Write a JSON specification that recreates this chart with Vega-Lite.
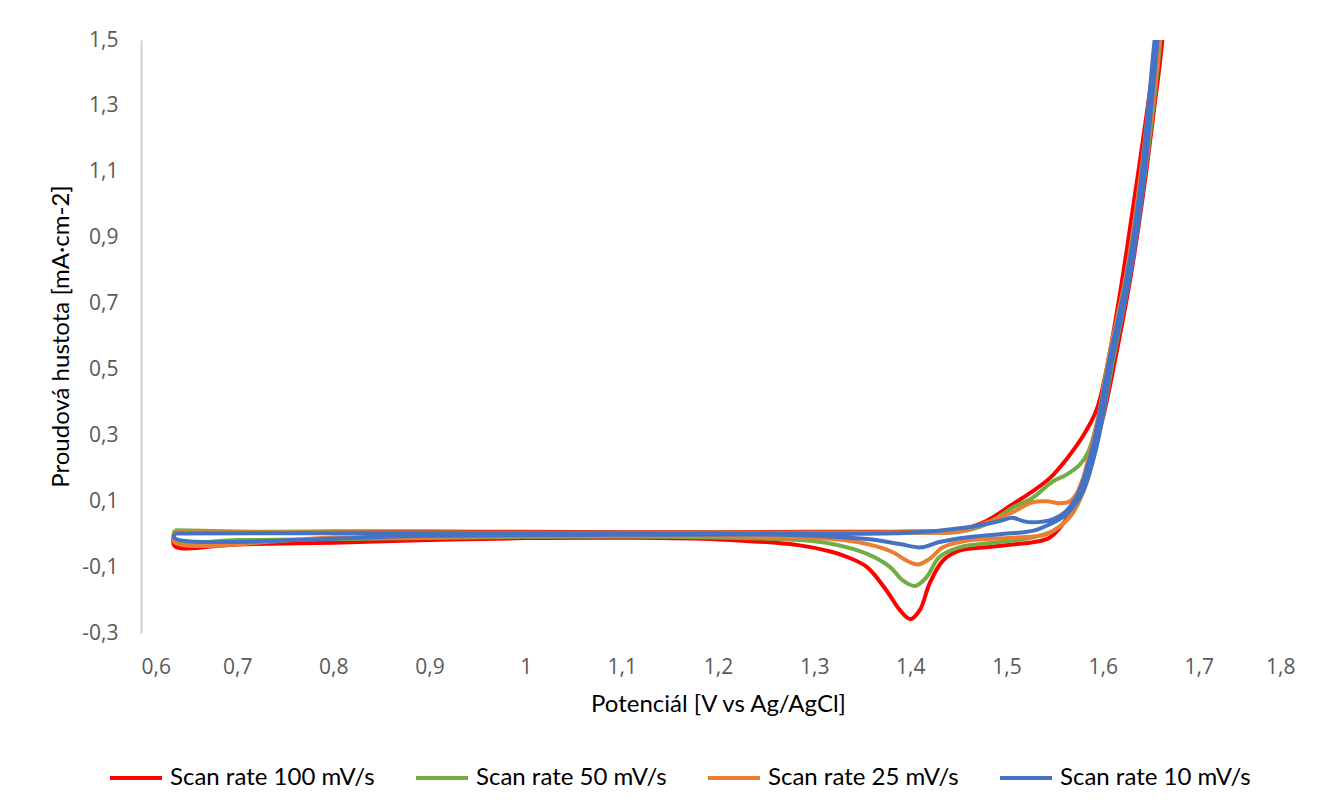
{
  "$schema": "https://vega.github.io/schema/vega-lite/v6.json",
  "width": 1154,
  "height": 593,
  "autosize": {"type": "none"},
  "padding": {"left": 141, "top": 40, "right": 35, "bottom": 178},
  "background": "white",
  "config": {
    "view": {"stroke": null},
    "locale": {"number": {"decimal": ",", "thousands": " ", "grouping": [3], "currency": ["", " €"], "minus": "-"}},
    "font": "Lato"
  },
  "datasets": {
    "cv": [
      {"s":"Scan rate 100 mV/s","i":0,"V":0.635,"J":0.005},
      {"s":"Scan rate 100 mV/s","i":1,"V":0.7,"J":0.006},
      {"s":"Scan rate 100 mV/s","i":2,"V":0.8,"J":0.008},
      {"s":"Scan rate 100 mV/s","i":3,"V":0.9,"J":0.008},
      {"s":"Scan rate 100 mV/s","i":4,"V":1.0,"J":0.007},
      {"s":"Scan rate 100 mV/s","i":5,"V":1.1,"J":0.006},
      {"s":"Scan rate 100 mV/s","i":6,"V":1.2,"J":0.006},
      {"s":"Scan rate 100 mV/s","i":7,"V":1.3,"J":0.007},
      {"s":"Scan rate 100 mV/s","i":8,"V":1.4,"J":0.008},
      {"s":"Scan rate 100 mV/s","i":9,"V":1.45,"J":0.012},
      {"s":"Scan rate 100 mV/s","i":10,"V":1.479,"J":0.04},
      {"s":"Scan rate 100 mV/s","i":11,"V":1.506,"J":0.09},
      {"s":"Scan rate 100 mV/s","i":12,"V":1.527,"J":0.13},
      {"s":"Scan rate 100 mV/s","i":13,"V":1.545,"J":0.17},
      {"s":"Scan rate 100 mV/s","i":14,"V":1.563,"J":0.23},
      {"s":"Scan rate 100 mV/s","i":15,"V":1.58,"J":0.3},
      {"s":"Scan rate 100 mV/s","i":16,"V":1.594,"J":0.38},
      {"s":"Scan rate 100 mV/s","i":17,"V":1.604,"J":0.5},
      {"s":"Scan rate 100 mV/s","i":18,"V":1.618,"J":0.73},
      {"s":"Scan rate 100 mV/s","i":19,"V":1.631,"J":0.98},
      {"s":"Scan rate 100 mV/s","i":20,"V":1.646,"J":1.28},
      {"s":"Scan rate 100 mV/s","i":21,"V":1.656,"J":1.5},
      {"s":"Scan rate 100 mV/s","i":22,"V":1.668,"J":1.8},
      {"s":"Scan rate 100 mV/s","i":23,"V":1.662,"J":1.5},
      {"s":"Scan rate 100 mV/s","i":24,"V":1.653,"J":1.28},
      {"s":"Scan rate 100 mV/s","i":25,"V":1.642,"J":1.03},
      {"s":"Scan rate 100 mV/s","i":26,"V":1.629,"J":0.78},
      {"s":"Scan rate 100 mV/s","i":27,"V":1.613,"J":0.53},
      {"s":"Scan rate 100 mV/s","i":28,"V":1.6,"J":0.35},
      {"s":"Scan rate 100 mV/s","i":29,"V":1.59,"J":0.25},
      {"s":"Scan rate 100 mV/s","i":30,"V":1.576,"J":0.14},
      {"s":"Scan rate 100 mV/s","i":31,"V":1.563,"J":0.05},
      {"s":"Scan rate 100 mV/s","i":32,"V":1.545,"J":-0.01},
      {"s":"Scan rate 100 mV/s","i":33,"V":1.527,"J":-0.025},
      {"s":"Scan rate 100 mV/s","i":34,"V":1.511,"J":-0.03},
      {"s":"Scan rate 100 mV/s","i":35,"V":1.479,"J":-0.04},
      {"s":"Scan rate 100 mV/s","i":36,"V":1.451,"J":-0.05},
      {"s":"Scan rate 100 mV/s","i":37,"V":1.434,"J":-0.08},
      {"s":"Scan rate 100 mV/s","i":38,"V":1.42,"J":-0.15},
      {"s":"Scan rate 100 mV/s","i":39,"V":1.41,"J":-0.23},
      {"s":"Scan rate 100 mV/s","i":40,"V":1.4,"J":-0.258},
      {"s":"Scan rate 100 mV/s","i":41,"V":1.389,"J":-0.23},
      {"s":"Scan rate 100 mV/s","i":42,"V":1.375,"J":-0.17},
      {"s":"Scan rate 100 mV/s","i":43,"V":1.355,"J":-0.1},
      {"s":"Scan rate 100 mV/s","i":44,"V":1.335,"J":-0.07},
      {"s":"Scan rate 100 mV/s","i":45,"V":1.319,"J":-0.054},
      {"s":"Scan rate 100 mV/s","i":46,"V":1.285,"J":-0.034},
      {"s":"Scan rate 100 mV/s","i":47,"V":1.2,"J":-0.016},
      {"s":"Scan rate 100 mV/s","i":48,"V":1.1,"J":-0.011},
      {"s":"Scan rate 100 mV/s","i":49,"V":1.0,"J":-0.012},
      {"s":"Scan rate 100 mV/s","i":50,"V":0.9,"J":-0.018},
      {"s":"Scan rate 100 mV/s","i":51,"V":0.8,"J":-0.026},
      {"s":"Scan rate 100 mV/s","i":52,"V":0.7,"J":-0.031},
      {"s":"Scan rate 100 mV/s","i":53,"V":0.635,"J":-0.036},
      {"s":"Scan rate 100 mV/s","i":54,"V":0.635,"J":0.005},

      {"s":"Scan rate 50 mV/s","i":0,"V":0.635,"J":0.012},
      {"s":"Scan rate 50 mV/s","i":1,"V":0.7,"J":0.008},
      {"s":"Scan rate 50 mV/s","i":2,"V":0.8,"J":0.006},
      {"s":"Scan rate 50 mV/s","i":3,"V":0.9,"J":0.005},
      {"s":"Scan rate 50 mV/s","i":4,"V":1.0,"J":0.004},
      {"s":"Scan rate 50 mV/s","i":5,"V":1.1,"J":0.004},
      {"s":"Scan rate 50 mV/s","i":6,"V":1.2,"J":0.004},
      {"s":"Scan rate 50 mV/s","i":7,"V":1.3,"J":0.004},
      {"s":"Scan rate 50 mV/s","i":8,"V":1.4,"J":0.005},
      {"s":"Scan rate 50 mV/s","i":9,"V":1.451,"J":0.007},
      {"s":"Scan rate 50 mV/s","i":10,"V":1.479,"J":0.03},
      {"s":"Scan rate 50 mV/s","i":11,"V":1.506,"J":0.08},
      {"s":"Scan rate 50 mV/s","i":12,"V":1.527,"J":0.11},
      {"s":"Scan rate 50 mV/s","i":13,"V":1.548,"J":0.16},
      {"s":"Scan rate 50 mV/s","i":14,"V":1.562,"J":0.18},
      {"s":"Scan rate 50 mV/s","i":15,"V":1.576,"J":0.21},
      {"s":"Scan rate 50 mV/s","i":16,"V":1.585,"J":0.25},
      {"s":"Scan rate 50 mV/s","i":17,"V":1.595,"J":0.35},
      {"s":"Scan rate 50 mV/s","i":18,"V":1.606,"J":0.53},
      {"s":"Scan rate 50 mV/s","i":19,"V":1.624,"J":0.78},
      {"s":"Scan rate 50 mV/s","i":20,"V":1.637,"J":1.03},
      {"s":"Scan rate 50 mV/s","i":21,"V":1.648,"J":1.28},
      {"s":"Scan rate 50 mV/s","i":22,"V":1.656,"J":1.5},
      {"s":"Scan rate 50 mV/s","i":23,"V":1.667,"J":1.8},
      {"s":"Scan rate 50 mV/s","i":24,"V":1.66,"J":1.5},
      {"s":"Scan rate 50 mV/s","i":25,"V":1.652,"J":1.28},
      {"s":"Scan rate 50 mV/s","i":26,"V":1.641,"J":1.03},
      {"s":"Scan rate 50 mV/s","i":27,"V":1.628,"J":0.78},
      {"s":"Scan rate 50 mV/s","i":28,"V":1.611,"J":0.53},
      {"s":"Scan rate 50 mV/s","i":29,"V":1.596,"J":0.3},
      {"s":"Scan rate 50 mV/s","i":30,"V":1.582,"J":0.15},
      {"s":"Scan rate 50 mV/s","i":31,"V":1.568,"J":0.06},
      {"s":"Scan rate 50 mV/s","i":32,"V":1.548,"J":0.01},
      {"s":"Scan rate 50 mV/s","i":33,"V":1.527,"J":-0.01},
      {"s":"Scan rate 50 mV/s","i":34,"V":1.493,"J":-0.024},
      {"s":"Scan rate 50 mV/s","i":35,"V":1.451,"J":-0.04},
      {"s":"Scan rate 50 mV/s","i":36,"V":1.43,"J":-0.07},
      {"s":"Scan rate 50 mV/s","i":37,"V":1.417,"J":-0.13},
      {"s":"Scan rate 50 mV/s","i":38,"V":1.405,"J":-0.157},
      {"s":"Scan rate 50 mV/s","i":39,"V":1.392,"J":-0.14},
      {"s":"Scan rate 50 mV/s","i":40,"V":1.379,"J":-0.1},
      {"s":"Scan rate 50 mV/s","i":41,"V":1.355,"J":-0.06},
      {"s":"Scan rate 50 mV/s","i":42,"V":1.319,"J":-0.03},
      {"s":"Scan rate 50 mV/s","i":43,"V":1.285,"J":-0.018},
      {"s":"Scan rate 50 mV/s","i":44,"V":1.2,"J":-0.01},
      {"s":"Scan rate 50 mV/s","i":45,"V":1.1,"J":-0.007},
      {"s":"Scan rate 50 mV/s","i":46,"V":1.0,"J":-0.008},
      {"s":"Scan rate 50 mV/s","i":47,"V":0.9,"J":-0.012},
      {"s":"Scan rate 50 mV/s","i":48,"V":0.8,"J":-0.015},
      {"s":"Scan rate 50 mV/s","i":49,"V":0.7,"J":-0.018},
      {"s":"Scan rate 50 mV/s","i":50,"V":0.635,"J":-0.02},
      {"s":"Scan rate 50 mV/s","i":51,"V":0.635,"J":0.012},

      {"s":"Scan rate 25 mV/s","i":0,"V":0.635,"J":0.006},
      {"s":"Scan rate 25 mV/s","i":1,"V":0.8,"J":0.005},
      {"s":"Scan rate 25 mV/s","i":2,"V":1.0,"J":0.004},
      {"s":"Scan rate 25 mV/s","i":3,"V":1.2,"J":0.004},
      {"s":"Scan rate 25 mV/s","i":4,"V":1.4,"J":0.005},
      {"s":"Scan rate 25 mV/s","i":5,"V":1.451,"J":0.008},
      {"s":"Scan rate 25 mV/s","i":6,"V":1.479,"J":0.035},
      {"s":"Scan rate 25 mV/s","i":7,"V":1.506,"J":0.066},
      {"s":"Scan rate 25 mV/s","i":8,"V":1.527,"J":0.097},
      {"s":"Scan rate 25 mV/s","i":9,"V":1.542,"J":0.1},
      {"s":"Scan rate 25 mV/s","i":10,"V":1.555,"J":0.094},
      {"s":"Scan rate 25 mV/s","i":11,"V":1.566,"J":0.1},
      {"s":"Scan rate 25 mV/s","i":12,"V":1.576,"J":0.14},
      {"s":"Scan rate 25 mV/s","i":13,"V":1.586,"J":0.24},
      {"s":"Scan rate 25 mV/s","i":14,"V":1.596,"J":0.36},
      {"s":"Scan rate 25 mV/s","i":15,"V":1.606,"J":0.53},
      {"s":"Scan rate 25 mV/s","i":16,"V":1.624,"J":0.78},
      {"s":"Scan rate 25 mV/s","i":17,"V":1.637,"J":1.03},
      {"s":"Scan rate 25 mV/s","i":18,"V":1.647,"J":1.28},
      {"s":"Scan rate 25 mV/s","i":19,"V":1.655,"J":1.5},
      {"s":"Scan rate 25 mV/s","i":20,"V":1.667,"J":1.8},
      {"s":"Scan rate 25 mV/s","i":21,"V":1.659,"J":1.5},
      {"s":"Scan rate 25 mV/s","i":22,"V":1.651,"J":1.28},
      {"s":"Scan rate 25 mV/s","i":23,"V":1.64,"J":1.03},
      {"s":"Scan rate 25 mV/s","i":24,"V":1.627,"J":0.78},
      {"s":"Scan rate 25 mV/s","i":25,"V":1.61,"J":0.53},
      {"s":"Scan rate 25 mV/s","i":26,"V":1.595,"J":0.29},
      {"s":"Scan rate 25 mV/s","i":27,"V":1.58,"J":0.13},
      {"s":"Scan rate 25 mV/s","i":28,"V":1.565,"J":0.05},
      {"s":"Scan rate 25 mV/s","i":29,"V":1.542,"J":0.0},
      {"s":"Scan rate 25 mV/s","i":30,"V":1.511,"J":-0.01},
      {"s":"Scan rate 25 mV/s","i":31,"V":1.458,"J":-0.02},
      {"s":"Scan rate 25 mV/s","i":32,"V":1.434,"J":-0.04},
      {"s":"Scan rate 25 mV/s","i":33,"V":1.42,"J":-0.075},
      {"s":"Scan rate 25 mV/s","i":34,"V":1.408,"J":-0.092},
      {"s":"Scan rate 25 mV/s","i":35,"V":1.396,"J":-0.08},
      {"s":"Scan rate 25 mV/s","i":36,"V":1.382,"J":-0.055},
      {"s":"Scan rate 25 mV/s","i":37,"V":1.355,"J":-0.03},
      {"s":"Scan rate 25 mV/s","i":38,"V":1.319,"J":-0.015},
      {"s":"Scan rate 25 mV/s","i":39,"V":1.285,"J":-0.01},
      {"s":"Scan rate 25 mV/s","i":40,"V":1.1,"J":-0.005},
      {"s":"Scan rate 25 mV/s","i":41,"V":0.9,"J":-0.008},
      {"s":"Scan rate 25 mV/s","i":42,"V":0.8,"J":-0.01},
      {"s":"Scan rate 25 mV/s","i":43,"V":0.635,"J":-0.025},
      {"s":"Scan rate 25 mV/s","i":44,"V":0.635,"J":0.006},

      {"s":"Scan rate 10 mV/s","i":0,"V":0.635,"J":0.002},
      {"s":"Scan rate 10 mV/s","i":1,"V":0.8,"J":0.003},
      {"s":"Scan rate 10 mV/s","i":2,"V":1.0,"J":0.003},
      {"s":"Scan rate 10 mV/s","i":3,"V":1.2,"J":0.003},
      {"s":"Scan rate 10 mV/s","i":4,"V":1.4,"J":0.004},
      {"s":"Scan rate 10 mV/s","i":5,"V":1.458,"J":0.02},
      {"s":"Scan rate 10 mV/s","i":6,"V":1.493,"J":0.04},
      {"s":"Scan rate 10 mV/s","i":7,"V":1.506,"J":0.05},
      {"s":"Scan rate 10 mV/s","i":8,"V":1.517,"J":0.04},
      {"s":"Scan rate 10 mV/s","i":9,"V":1.527,"J":0.036},
      {"s":"Scan rate 10 mV/s","i":10,"V":1.548,"J":0.045},
      {"s":"Scan rate 10 mV/s","i":11,"V":1.562,"J":0.07},
      {"s":"Scan rate 10 mV/s","i":12,"V":1.574,"J":0.12},
      {"s":"Scan rate 10 mV/s","i":13,"V":1.59,"J":0.27},
      {"s":"Scan rate 10 mV/s","i":14,"V":1.607,"J":0.53},
      {"s":"Scan rate 10 mV/s","i":15,"V":1.625,"J":0.78},
      {"s":"Scan rate 10 mV/s","i":16,"V":1.638,"J":1.03},
      {"s":"Scan rate 10 mV/s","i":17,"V":1.647,"J":1.28},
      {"s":"Scan rate 10 mV/s","i":18,"V":1.654,"J":1.5},
      {"s":"Scan rate 10 mV/s","i":19,"V":1.666,"J":1.8},
      {"s":"Scan rate 10 mV/s","i":20,"V":1.657,"J":1.5},
      {"s":"Scan rate 10 mV/s","i":21,"V":1.65,"J":1.28},
      {"s":"Scan rate 10 mV/s","i":22,"V":1.641,"J":1.03},
      {"s":"Scan rate 10 mV/s","i":23,"V":1.628,"J":0.78},
      {"s":"Scan rate 10 mV/s","i":24,"V":1.61,"J":0.53},
      {"s":"Scan rate 10 mV/s","i":25,"V":1.594,"J":0.27},
      {"s":"Scan rate 10 mV/s","i":26,"V":1.578,"J":0.12},
      {"s":"Scan rate 10 mV/s","i":27,"V":1.562,"J":0.06},
      {"s":"Scan rate 10 mV/s","i":28,"V":1.545,"J":0.03},
      {"s":"Scan rate 10 mV/s","i":29,"V":1.527,"J":0.01},
      {"s":"Scan rate 10 mV/s","i":30,"V":1.493,"J":0.0},
      {"s":"Scan rate 10 mV/s","i":31,"V":1.458,"J":-0.01},
      {"s":"Scan rate 10 mV/s","i":32,"V":1.43,"J":-0.024},
      {"s":"Scan rate 10 mV/s","i":33,"V":1.411,"J":-0.04},
      {"s":"Scan rate 10 mV/s","i":34,"V":1.389,"J":-0.03},
      {"s":"Scan rate 10 mV/s","i":35,"V":1.355,"J":-0.015},
      {"s":"Scan rate 10 mV/s","i":36,"V":1.285,"J":-0.003},
      {"s":"Scan rate 10 mV/s","i":37,"V":1.1,"J":-0.002},
      {"s":"Scan rate 10 mV/s","i":38,"V":0.9,"J":-0.005},
      {"s":"Scan rate 10 mV/s","i":39,"V":0.635,"J":-0.012},
      {"s":"Scan rate 10 mV/s","i":40,"V":0.635,"J":0.002}
    ]
  },
  "layer": [
    {
      "mark": {"type": "rule", "color": "#D0D0D0", "strokeWidth": 2},
      "encoding": {"y": {"datum": 0, "type": "quantitative", "scale": {"domain": [-0.3, 1.5], "nice": false}}}
    },
    {
      "data": {"name": "cv"},
      "mark": {"type": "line", "strokeWidth": 4, "interpolate": "catmull-rom", "clip": true},
      "encoding": {
        "x": {
          "field": "V", "type": "quantitative",
          "scale": {"domain": [0.6, 1.8], "nice": false, "zero": false},
          "axis": {
            "values": [0.6, 0.7, 0.8, 0.9, 1.0, 1.1, 1.2, 1.3, 1.4, 1.5, 1.6, 1.7, 1.8],
            "format": ".1~f",
            "domain": false, "ticks": false, "grid": false,
            "labelPadding": 23, "labelFontSize": 21, "labelColor": "#595959", "labelFont": "Open Sans",
            "title": "Potenciál [V vs Ag/AgCl]", "titleFontSize": 24, "titleFontWeight": "normal",
            "titleColor": "#000000", "titleY": 59, "titleBaseline": "top", "titleFont": "Lato"
          }
        },
        "y": {
          "field": "J", "type": "quantitative",
          "scale": {"domain": [-0.3, 1.5], "nice": false, "zero": false},
          "axis": {
            "values": [-0.3, -0.1, 0.1, 0.3, 0.5, 0.7, 0.9, 1.1, 1.3, 1.5],
            "format": ".1f",
            "domain": true, "domainColor": "#D0D0D0", "domainWidth": 2,
            "ticks": false, "grid": false,
            "labelPadding": 23, "labelFontSize": 21, "labelColor": "#595959", "labelFont": "Open Sans",
            "title": "Proudová hustota [mA·cm-2]", "titleFontSize": 24, "titleFontWeight": "normal",
            "titleColor": "#000000", "titleX": -68, "titleY": 296, "titleFont": "Lato"
          }
        },
        "order": {"field": "i", "type": "quantitative"},
        "color": {
          "field": "s", "type": "nominal",
          "scale": {
            "domain": ["Scan rate 100 mV/s", "Scan rate 50 mV/s", "Scan rate 25 mV/s", "Scan rate 10 mV/s"],
            "range": ["#FF0000", "#70AD47", "#ED7D31", "#4472C4"]
          },
          "legend": {
            "orient": "none", "legendX": -33, "legendY": 710,
            "direction": "horizontal", "columns": 4, "title": null,
            "symbolType": "stroke", "symbolSize": 2704, "symbolStrokeWidth": 4,
            "labelFontSize": 24, "labelFont": "Lato", "labelColor": "#000000",
            "labelOffset": 6, "columnPadding": 33, "labelLimit": 400
          }
        }
      }
    }
  ]
}
